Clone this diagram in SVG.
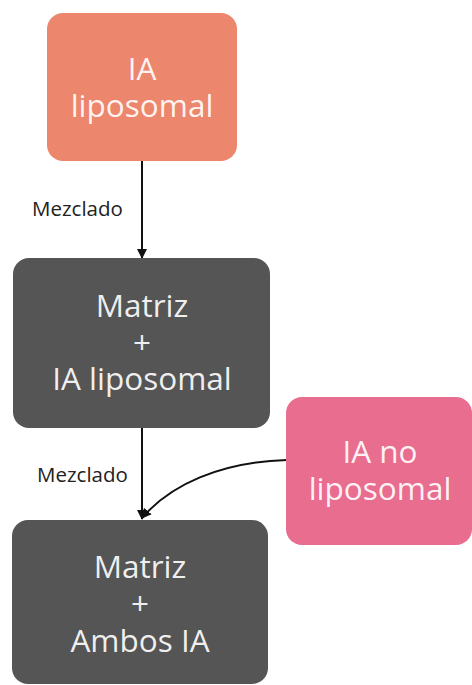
<svg xmlns="http://www.w3.org/2000/svg" width="472" height="685" viewBox="0 0 472 685">
<defs>
<style>
.node text{font-family:"Open Sans","Noto Sans",sans-serif;font-size:31.5px;fill:#ffffff;fill-opacity:0.92;text-anchor:middle}
.lbl{font-family:"Open Sans","Noto Sans",sans-serif;font-size:20.5px;fill:#222222}
.edge{fill:none;stroke:#111111;stroke-width:2}
</style>
<marker id="ah" viewBox="0 0 10 10" refX="9" refY="5" markerWidth="10" markerHeight="10" markerUnits="userSpaceOnUse" orient="auto">
<path d="M0,0 L10,5 L0,10 Z" fill="#111111"/>
</marker>
</defs>
<rect width="472" height="685" fill="#ffffff"/>
<g id="connectors">
<path class="edge" d="M142,161 L142,258" marker-end="url(#ah)"/>
<path class="edge" d="M142,428 L142,519" marker-end="url(#ah)"/>
<path class="edge" d="M287,460 C220,462 170,485 142,518" marker-end="url(#ah)"/>
<text class="lbl" x="32" y="216">Mezclado</text>
<text class="lbl" x="37" y="482">Mezclado</text>
</g>
<g id="n1" class="node">
<rect x="47" y="13" width="190" height="148" rx="16" fill="#ec866c"/>
<text x="142" y="80">IA</text>
<text x="142" y="117">liposomal</text>
</g>
<g id="n2" class="node">
<rect x="13" y="258" width="257" height="170" rx="16" fill="#555555"/>
<text x="142" y="317">Matriz</text>
<text x="142" y="354">+</text>
<text x="142" y="390">IA liposomal</text>
</g>
<g id="n3" class="node">
<rect x="286" y="397" width="186" height="148" rx="16" fill="#e96d8f"/>
<text x="380" y="463">IA no</text>
<text x="380" y="500">liposomal</text>
</g>
<g id="n4" class="node">
<rect x="12" y="520" width="256" height="164" rx="16" fill="#555555"/>
<text x="140" y="578">Matriz</text>
<text x="140" y="615">+</text>
<text x="140" y="652">Ambos IA</text>
</g>
</svg>
